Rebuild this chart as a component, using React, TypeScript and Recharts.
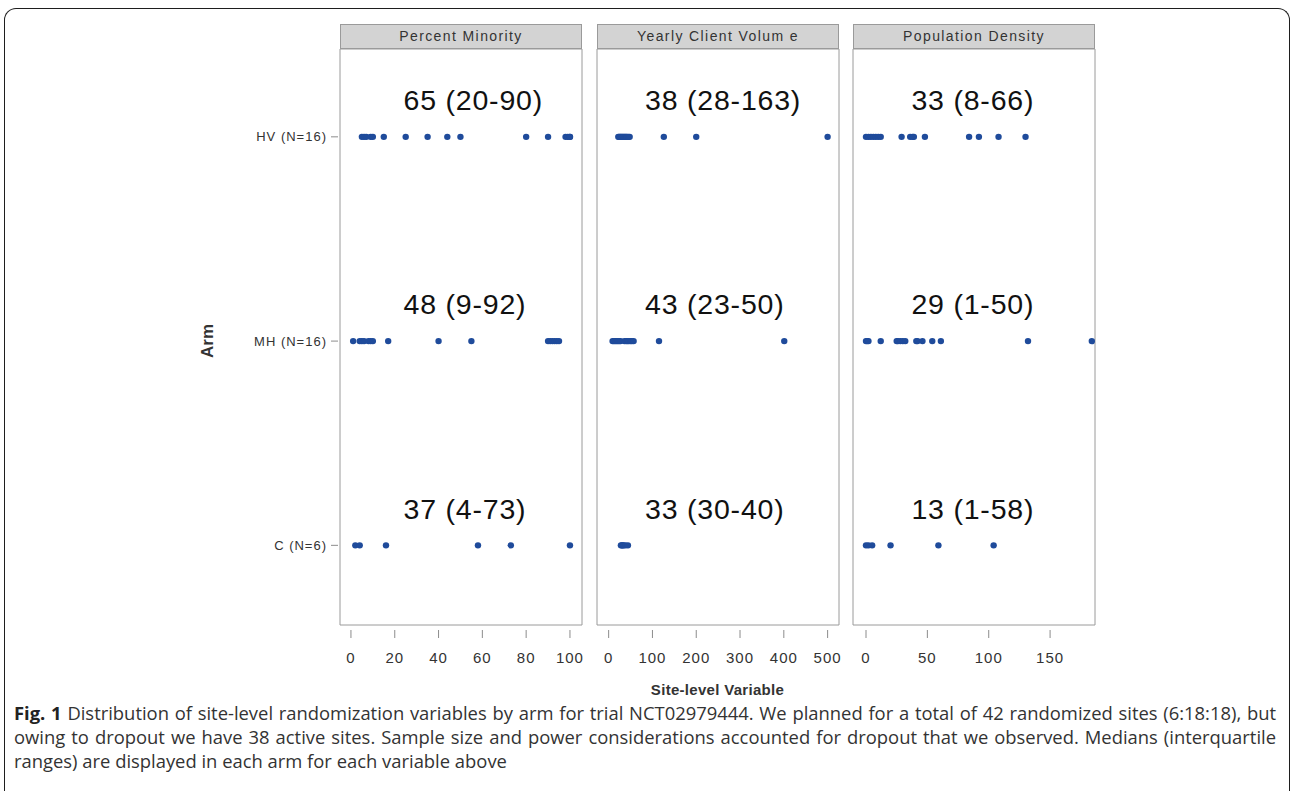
import { ReferenceArea, Scatter, ScatterChart, XAxis, YAxis } from "recharts";

// rows from bottom to top: 1 = C, 2 = MH, 3 = HV
const armLabels = ["C (N=6)", "MH (N=16)", "HV (N=16)"];
const armRows = [1, 2, 3];
const variableNames = ["Percent Minority", "Yearly Client Volum e", "Population Density"];

const pctMinorityHV = [5, 6, 7, 9, 10, 15, 25, 35, 44, 50, 80, 90, 98, 99, 100, 100];
const pctMinorityMH = [1, 4, 5, 6, 8, 9, 10, 17, 40, 55, 90, 91, 92, 93, 94, 95];
const pctMinorityC = [2, 4, 16, 58, 73, 100];

const clientVolumeHV = [22, 24, 26, 28, 30, 32, 34, 36, 38, 40, 42, 45, 48, 126, 200, 500];
const clientVolumeMH = [9, 12, 15, 18, 21, 24, 27, 36, 40, 43, 46, 50, 53, 57, 115, 401];
const clientVolumeC = [28, 30, 32, 34, 38, 44];

const popDensityHV = [0, 2, 4, 6, 8, 10, 12, 29, 36, 38, 39, 48, 84, 92, 108, 130];
const popDensityMH = [0, 1, 2, 12, 25, 26, 28, 30, 32, 41, 42, 46, 54, 61, 132, 184];
const popDensityC = [0, 2, 5, 20, 59, 104];

// medians (IQR) per arm, order C, MH, HV
const pctMinorityMedians = ["37 (4-73)", "48 (9-92)", "65 (20-90)"];
const clientVolumeMedians = ["33 (30-40)", "43 (23-50)", "38 (28-163)"];
const popDensityMedians = ["13 (1-58)", "29 (1-50)", "33 (8-66)"];

const pctMinorityTicks = [0, 20, 40, 60, 80, 100];
const clientVolumeTicks = [0, 100, 200, 300, 400, 500];
const popDensityTicks = [0, 50, 100, 150];

const DOT = "#1f4b9b";
const FRAME = "#9a9a9a";
const TEXT = "#333333";
const SAS_FONT = "'Liberation Sans', Arial, sans-serif";

const Y_DOMAIN: [number, number] = [0.61, 3.43];
const PLOT_W = 242;
const PLOT_H = 576;
const AXIS_H = 50;
const SPILL = 24; // room on the right so the last tick label is not cut
const LABEL_LIFT = 0.18;

const toPoints = (arms: number[][]) =>
  arms.flatMap((vals, i) => vals.map((v) => ({ x: v, y: armRows[i] })));

const toLabels = (meds: string[], at: number) =>
  meds.map((text, i) => ({ x: at, y: armRows[i] + LABEL_LIFT, text }));

const panels = [
  {
    name: variableNames[0],
    left: 340,
    domain: [-5, 105.5] as [number, number],
    ticks: pctMinorityTicks,
    points: toPoints([pctMinorityC, pctMinorityMH, pctMinorityHV]),
    labels: toLabels(pctMinorityMedians, 24),
  },
  {
    name: variableNames[1],
    left: 597,
    domain: [-26.6, 526] as [number, number],
    ticks: clientVolumeTicks,
    points: toPoints([clientVolumeC, clientVolumeMH, clientVolumeHV]),
    labels: toLabels(clientVolumeMedians, 83),
  },
  {
    name: variableNames[2],
    left: 853,
    domain: [-10.6, 186.6] as [number, number],
    ticks: popDensityTicks,
    points: toPoints([popDensityC, popDensityMH, popDensityHV]),
    labels: toLabels(popDensityMedians, 37),
  },
];

function ValueTick({ x, y, payload }: any) {
  return (
    <g>
      <line x1={x} x2={x} y1={y + 5} y2={y + 13} stroke="#8c8c8c" />
      <text x={x} y={y + 32} textAnchor="middle" dominantBaseline="central"
        fontFamily={SAS_FONT} fontSize={15} letterSpacing={1} fill={TEXT}>
        {payload.value}
      </text>
    </g>
  );
}

function ArmTick({ x, y, payload }: any) {
  return (
    <g>
      <line x1={x - 9} x2={x - 2} y1={y} y2={y} stroke="#8c8c8c" />
      <text x={x - 13} y={y} textAnchor="end" dominantBaseline="central"
        fontFamily={SAS_FONT} fontSize={13} letterSpacing={1} fill={TEXT}>
        {armLabels[payload.value - 1]}
      </text>
    </g>
  );
}

const dotShape = (p: any) => <circle cx={p.cx} cy={p.cy} r={3.2} fill={DOT} />;

const medianShape = (p: any) => (
  <text x={p.cx} y={p.cy} dominantBaseline="central" fontFamily={SAS_FONT}
    fontSize={28.5} letterSpacing={0.8} fill="#111">
    {p.payload.text}
  </text>
);

function Panel({ panel, first }: { panel: (typeof panels)[number]; first: boolean }) {
  const yAxisW = first ? 150 : 0;
  return (
    <div style={{ position: "absolute", left: panel.left - 1 - yAxisW, top: 48 }}>
      <ScatterChart
        width={yAxisW + PLOT_W + 1 + SPILL}
        height={PLOT_H + AXIS_H + 1}
        margin={{ top: 1, right: SPILL, bottom: 0, left: 1 }}
      >
        <XAxis type="number" dataKey="x" domain={panel.domain} ticks={panel.ticks}
          allowDataOverflow interval={0} axisLine={false} tickLine={false}
          tickSize={0} tickMargin={0} height={AXIS_H} tick={<ValueTick />} />
        <YAxis type="number" dataKey="y" domain={Y_DOMAIN} ticks={armRows}
          allowDataOverflow hide={!first} width={yAxisW} axisLine={false}
          tickLine={false} tickSize={0} tickMargin={0} tick={<ArmTick />}
          label={(p: any) => (
            <text x={p.viewBox.x + 17} y={p.viewBox.y + p.viewBox.height / 2 + 4}
              transform={`rotate(-90 ${p.viewBox.x + 17} ${p.viewBox.y + p.viewBox.height / 2 + 4})`}
              textAnchor="middle" dominantBaseline="central" fontFamily={SAS_FONT}
              fontSize={17} fontWeight="bold" fill={TEXT}>
              Arm
            </text>
          )} />
        <ReferenceArea x1={panel.domain[0]} x2={panel.domain[1]} y1={Y_DOMAIN[0]} y2={Y_DOMAIN[1]}
          fill="none" fillOpacity={0} stroke={FRAME} strokeOpacity={1} ifOverflow="visible" />
        <Scatter data={panel.points} shape={dotShape} isAnimationActive={false} />
        <Scatter data={panel.labels} shape={medianShape} isAnimationActive={false} />
      </ScatterChart>
    </div>
  );
}

const captionLine = (justify: boolean) => ({
  width: 1262,
  textAlign: (justify ? "justify" : "left") as any,
  textAlignLast: (justify ? "justify" : "left") as any,
  whiteSpace: "nowrap" as const,
  height: 24,
});

export default function App() {
  return (
    <div style={{ position: "absolute", left: 0, top: 0, width: 1292, height: 791, background: "#fff", overflow: "hidden" }}>
      <div style={{
        position: "absolute", left: 4, top: 8, width: 1286, height: 783, boxSizing: "border-box",
        border: "1.5px solid #1e1e1e", borderBottom: "none", borderRadius: "12px 12px 0 0",
      }} />
      {panels.map((p) => (
        <div key={p.name} style={{
          position: "absolute", left: p.left, top: 24, width: PLOT_W, height: 25, boxSizing: "border-box",
          border: `1px solid ${FRAME}`, background: "#d3d3d3", fontFamily: SAS_FONT, fontSize: 14,
          letterSpacing: 1.4, color: TEXT, textAlign: "center", lineHeight: "23px",
        }}>
          {p.name}
        </div>
      ))}
      {panels.map((p, i) => (
        <Panel key={p.name} panel={p} first={i === 0} />
      ))}
      <div style={{
        position: "absolute", left: 340, width: 755, top: 681, textAlign: "center",
        fontFamily: SAS_FONT, fontWeight: "bold", fontSize: 15, letterSpacing: 0.3, color: TEXT,
      }}>
        Site-level Variable
      </div>
      <div style={{
        position: "absolute", left: 14, top: 701, fontFamily: "'Open Sans', sans-serif",
        fontSize: 18.4, lineHeight: "24px", color: "#333",
      }}>
        <div style={captionLine(true)}><b style={{ color: "#222" }}>Fig. 1</b> Distribution of site-level randomization variables by arm for trial NCT02979444. We planned for a total of 42 randomized sites (6:18:18), but</div>
        <div style={captionLine(true)}>owing to dropout we have 38 active sites. Sample size and power considerations accounted for dropout that we observed. Medians (interquartile</div>
        <div style={captionLine(false)}>ranges) are displayed in each arm for each variable above</div>
      </div>
    </div>
  );
}
